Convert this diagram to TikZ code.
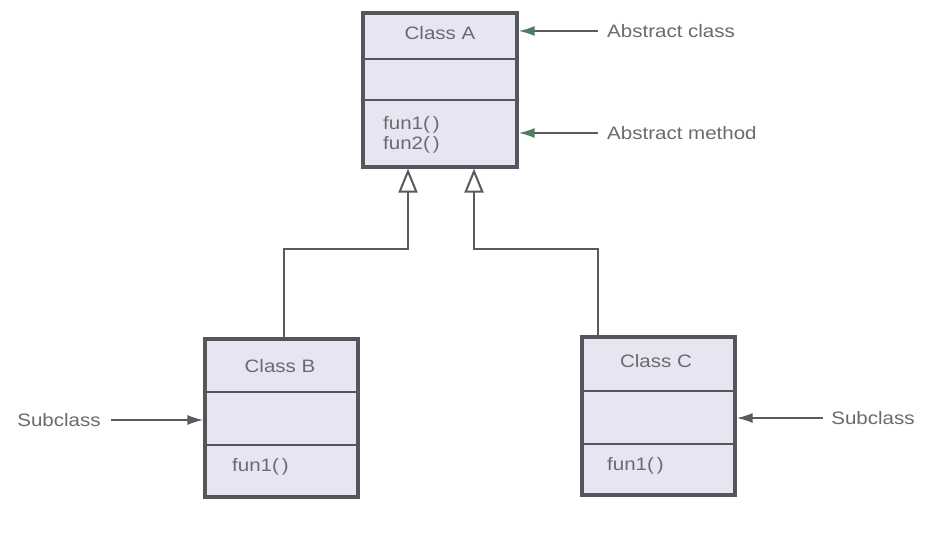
\documentclass[tikz,border=0pt]{standalone}
\usepackage{fontspec}
\setmainfont[FakeStretch=1.14]{Liberation Sans}
\usetikzlibrary{arrows.meta}
\definecolor{boxfill}{HTML}{E6E6F2}
\definecolor{boxline}{HTML}{55555C}
\definecolor{txt}{HTML}{6A6A70}
\definecolor{linec}{HTML}{5A5A60}
\definecolor{greenhead}{HTML}{4E7E60}
\begin{document}
\begin{tikzpicture}[x=1pt,y=-1pt,
  classbox/.style={draw=boxline,fill=boxfill,line width=3.2pt,inner sep=0pt},
  divider/.style={draw=boxline,line width=2.6pt},
  lbl/.style={text=txt,font=\fontsize{18}{20}\selectfont,inner sep=0pt},
  inherit/.style={draw=linec,line width=2pt,-{Triangle[open,length=24pt,width=19pt,line width=2pt]}},
  noteg/.style={draw=linec,line width=1.8pt,-{Latex[length=16pt,width=10pt,fill=greenhead,color=greenhead]}},
  notes/.style={draw=linec,line width=1.8pt,-{Latex[length=16pt,width=10pt]}}
]
\useasboundingbox (0,0) rectangle (936,544);
\fill[white] (0,0) rectangle (936,544);
% Class A
\node[classbox,minimum width=154pt,minimum height=154pt] (A) at (440,90) {};
\draw[divider] (363,59) -- (517,59);
\draw[divider] (363,100) -- (517,100);
\node[lbl] (An) at (440,33) {Class A};
\node[lbl,anchor=west] (Af1) at (383,125) {fun1(\,)};
\node[lbl,anchor=west] (Af2) at (383,145) {fun2(\,)};
% Class B
\node[classbox,minimum width=153pt,minimum height=158pt] (B) at (281.5,418) {};
\draw[divider] (205,392) -- (358,392);
\draw[divider] (205,445) -- (358,445);
\node[lbl] (Bn) at (280,366) {Class B};
\node[lbl,anchor=west] (Bf1) at (232,467) {fun1(\,)};
% Class C
\node[classbox,minimum width=153pt,minimum height=158pt] (C) at (658.5,416) {};
\draw[divider] (582,391) -- (735,391);
\draw[divider] (582,444) -- (735,444);
\node[lbl] (Cn) at (656,361) {Class C};
\node[lbl,anchor=west] (Cf1) at (607,466) {fun1(\,)};
% inheritance
\draw[inherit] (B.north -| 284,0) |- (408,249) -- (A.south -| 408,0);
\draw[inherit] (C.north -| 598,0) |- (474,249) -- (A.south -| 474,0);
% notes
\node[lbl,anchor=west] (nac) at (607,31) {Abstract class};
\node[lbl,anchor=west] (nam) at (607,133) {Abstract method};
\node[lbl] (nsb) at (59,420) {Subclass};
\node[lbl] (nsc) at (873,418) {Subclass};
\draw[noteg] (nac.west) ++(-9,0) -- (A.east |- nac.west);
\draw[noteg] (nam.west) ++(-9,0) -- (A.east |- nam.west);
\draw[notes] (nsb.east) ++(10,0) -- (B.west |- nsb.east);
\draw[notes] (nsc.west) ++(-8,0) -- (C.east |- nsc.west);
\end{tikzpicture}
\end{document}
